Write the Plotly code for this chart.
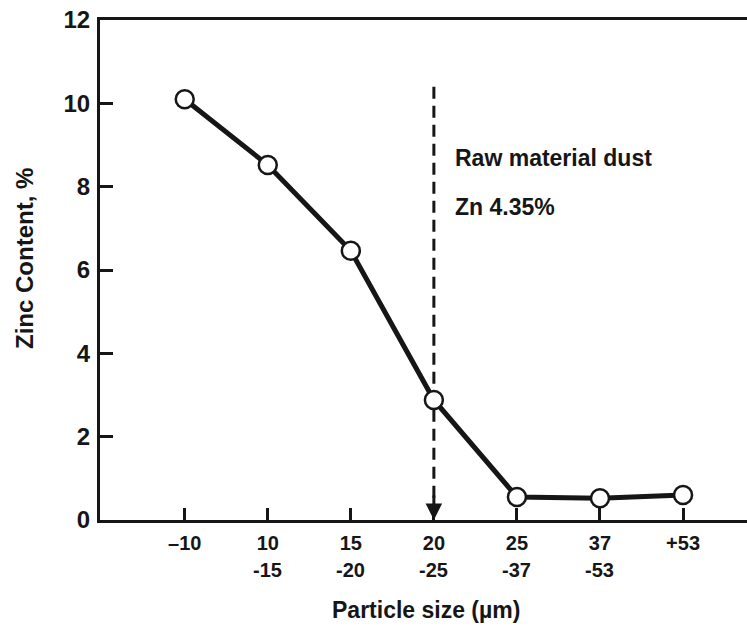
import plotly.graph_objects as go

size_top = ["\u201310", "10", "15", "20", "25", "37", "+53"]
size_bottom = ["", "-15", "-20", "-25", "-37", "-53", ""]
zinc = [10.1, 8.52, 6.46, 2.88, 0.55, 0.52, 0.6]
y_ticks = [0, 2, 4, 6, 8, 10, 12]
raw_idx = 3
raw_top = 10.4
note_lines = ["Raw material dust", "Zn 4.35%"]

idx = list(range(len(size_top)))
ink = "#161616"
FONT = "Liberation Sans, Arial, sans-serif"

fig = go.Figure()

# dashed vertical marker line
fig.add_trace(go.Scatter(
    x=[raw_idx, raw_idx], y=[raw_top, 0.45], mode="lines",
    line=dict(color=ink, width=3, dash="12px,7px"),
    hoverinfo="skip", showlegend=False))

fig.add_trace(go.Scatter(
    x=idx, y=zinc, mode="lines+markers",
    line=dict(color=ink, width=5),
    marker=dict(symbol="circle", size=18, color="white",
                line=dict(color=ink, width=2.5)),
    showlegend=False))

# arrow head
fig.add_annotation(x=raw_idx, y=0, xref="x", yref="y", ax=0, ay=-26,
                   showarrow=True, arrowhead=2, arrowsize=1.1, arrowwidth=3,
                   arrowcolor=ink, text="")

# second line of the x tick labels
for i, t in zip(idx, size_bottom):
    if t:
        fig.add_annotation(x=i, y=-0.1, xref="x", yref="paper", text=t,
                           showarrow=False, xanchor="center", yanchor="middle",
                           font=dict(family=FONT, size=20, color=ink, weight="bold"))

fig.add_annotation(x=0.5456, y=8.69, xref="paper", yref="y", text=note_lines[0],
                   showarrow=False, xanchor="left", yanchor="middle",
                   font=dict(family=FONT, size=23, color=ink, weight="bold"))
fig.add_annotation(x=0.5456, y=7.51, xref="paper", yref="y", text=note_lines[1],
                   showarrow=False, xanchor="left", yanchor="middle",
                   font=dict(family=FONT, size=23, color=ink, weight="bold"))

fig.add_annotation(x=-0.1175, y=0.524, xref="paper", yref="paper",
                   text="Zinc Content, %", textangle=-90, showarrow=False,
                   xanchor="center", yanchor="middle",
                   font=dict(family=FONT, size=24, color=ink, weight="bold"))
fig.add_annotation(x=0.504, y=-0.18, xref="paper", yref="paper",
                   text="Particle size (\u00b5m)", showarrow=False,
                   xanchor="center", yanchor="middle",
                   font=dict(family=FONT, size=23, color=ink, weight="bold"))

fig.update_layout(
    width=747, height=633,
    margin=dict(l=100, r=0, t=20, b=113),
    paper_bgcolor="white", plot_bgcolor="white",
    xaxis=dict(range=[-1.02, 6.77], tickvals=idx, ticktext=size_top,
               showgrid=False, zeroline=False,
               showline=True, linecolor=ink, linewidth=3, mirror=True,
               ticks="inside", ticklen=12, tickwidth=2.5, tickcolor=ink,
               ticklabelstandoff=3,
               tickfont=dict(family=FONT, size=20, color=ink, weight="bold")),
    yaxis=dict(range=[0, 12], tickvals=y_ticks,
               showgrid=False, zeroline=False,
               showline=True, linecolor=ink, linewidth=3,
               ticks="inside", ticklen=13, tickwidth=2.5, tickcolor=ink,
               ticklabelstandoff=2,
               tickfont=dict(family=FONT, size=24, color=ink, weight="bold")),
)

fig.write_html("out.html")
